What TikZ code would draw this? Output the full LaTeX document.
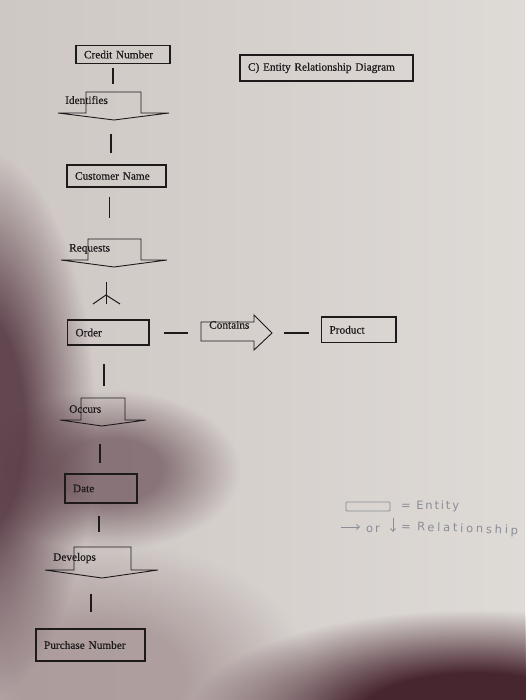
\documentclass[tikz,border=0pt]{standalone}
\usepackage{fontspec}
\setmainfont{Liberation Serif}[FakeBold=0.5]
\newfontfamily\handfont[LetterSpace=16]{DejaVu Sans}
\newfontfamily\handfontwide[LetterSpace=24]{DejaVu Sans}
\usetikzlibrary{fadings,arrows.meta}
\pgfdeclareradialshading{blobshade}{\pgfpointorigin}{color(0bp)=(pgftransparent!0); color(10bp)=(pgftransparent!0); color(25bp)=(pgftransparent!100); color(50bp)=(pgftransparent!100)}
\pgfdeclarefading{blob}{\pgfuseshading{blobshade}}
\definecolor{paperL}{RGB}{206,199,196}
\definecolor{paperR}{RGB}{222,218,214}
\definecolor{shadowA}{RGB}{88,58,68}
\definecolor{shadowB}{RGB}{72,38,48}
\definecolor{shadowC}{RGB}{150,128,130}
\definecolor{ink}{RGB}{30,26,28}
\definecolor{pencil}{RGB}{138,140,152}
\tikzset{
  entity/.style={draw=ink, line width=1.1pt, rectangle, inner xsep=8pt, inner ysep=0pt,
    align=left, text=ink, font=\fontsize{11.3}{13}\selectfont},
  reltext/.style={inner sep=0pt, anchor=west, text=ink, font=\fontsize{11.3}{13}\selectfont},
  relshape/.style={draw=ink, line width=0.9pt, line join=miter},
  link/.style={draw=ink, line width=1.2pt},
  hand/.style={inner sep=0pt, anchor=west, text=pencil, font=\handfont\fontsize{11.5}{13}\selectfont},
  handwide/.style={inner sep=0pt, anchor=west, text=pencil, font=\handfontwide\fontsize{11.5}{13}\selectfont},
  handline/.style={draw=pencil, line width=0.8pt}
}
\begin{document}
\begin{tikzpicture}[x=1pt,y=-1pt]
\useasboundingbox (0,0) rectangle (525,700);
% paper and shadows
\shade[left color=paperL, right color=paperR] (0,0) rectangle (525,700);
\fill[shadowC, opacity=.6, path fading=blob] (-110,540) rectangle (310,820);
\fill[shadowA, opacity=.9, path fading=blob] (-140,150) rectangle (95,700);
\fill[shadowA, opacity=.6, path fading=blob] (-20,390) rectangle (240,550);
\fill[shadowB, path fading=blob] (190,610) rectangle (760,820);

% title
\node[entity, text width=157pt, minimum height=26pt] (title) at (326.5,68) {C) Entity Relationship Diagram};

% entities
\node[entity, text width=78pt, minimum height=18pt] (credit) at (123,54.5) {Credit Number};
\node[entity, text width=83pt, minimum height=22pt] (customer) at (116.5,176) {Customer Name};
\node[entity, text width=65.5pt, minimum height=25pt] (order) at (108.25,332.5) {Order};
\node[entity, text width=58.5pt, minimum height=25.5pt] (product) at (358.75,329.75) {Product};
\node[entity, text width=56pt, minimum height=29pt] (date) at (101,488.5) {Date};
\node[entity, text width=93pt, minimum height=32pt] (purchase) at (90.5,645) {Purchase Number};

% relationship shapes
\draw[relshape] (58,113) -- (86,113) -- (86,92) -- (141,92) -- (141,113) -- (169,113) -- (114,120) -- cycle;
\node[reltext] (identifies) at (65,100) {Identifies};
\draw[relshape] (61,260) -- (88,260) -- (88,239) -- (141,239) -- (141,260) -- (167,260) -- (114,267) -- cycle;
\node[reltext] (requests) at (69,249) {Requests};
\draw[relshape] (60,420) -- (81,420) -- (81,398) -- (125,398) -- (125,420) -- (146,420) -- (102,426) -- cycle;
\node[reltext] (occurs) at (69,409) {Occurs};
\draw[relshape] (45,570) -- (74,570) -- (74,547) -- (131,547) -- (131,570) -- (158,570) -- (102,578) -- cycle;
\node[reltext] (develops) at (53,558) {Develops};
\draw[relshape] (201,322) -- (254,322) -- (254,315) -- (272,333) -- (254,350) -- (254,341) -- (201,341) -- cycle;
\node[reltext] (contains) at (209,325) {Contains};

% connector strokes
\draw[link] (113,68) coordinate (a1) -- (113,84) coordinate (a2);
\draw[link] (111,134) coordinate (b1) -- (111,153) coordinate (b2);
\draw[link] (109.5,197) coordinate (c1) -- (109.5,218) coordinate (c2);
\draw[ink, line width=1pt] (106,282) coordinate (d1) -- (106,304) coordinate (d2);
\draw[ink, line width=1pt] (93,304) coordinate (d3) -- (106,295) coordinate (d4) -- (120,304) coordinate (d5);
\draw[link] (104,364) coordinate (e1) -- (104,386) coordinate (e2);
\draw[link] (100,444) coordinate (f1) -- (100,463) coordinate (f2);
\draw[link] (99,516) coordinate (g1) -- (99,532) coordinate (g2);
\draw[link] (91,594) coordinate (h1) -- (91,612) coordinate (h2);
\draw[link] (164,333) coordinate (i1) -- (188,333) coordinate (i2);
\draw[link] (284,333) coordinate (j1) -- (309,333) coordinate (j2);

% legend (pencil)
\draw[handline, rounded corners=1pt] (346,502) rectangle (390,511);
\node[hand] (entityT) at (401,506) {= Entity};
\draw[handline, -{Straight Barb[length=3pt,width=5pt]}] (341,527) coordinate (k1) -- (360,527) coordinate (k2);
\node[hand] (orT) at (366,529) {or};
\draw[handline, -{Straight Barb[length=3pt,width=5pt]}] (393,518) coordinate (m1) -- (393,532) coordinate (m2);
\node[handwide, rotate=-2] (relT) at (401,527) {= Relationship};
\end{tikzpicture}
\end{document}
